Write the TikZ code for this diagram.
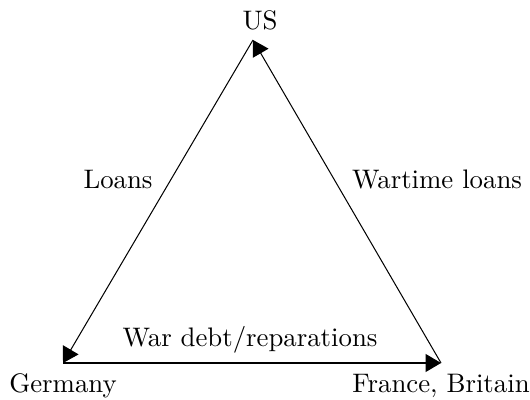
\documentclass[tikz,border=0pt]{standalone}
\usetikzlibrary{arrows.meta}
\begin{document}
\begin{tikzpicture}[x=0.392pt,y=-0.392pt,
  flow/.style={-{Triangle[length=6pt,width=7pt]}, line width=0.4pt},
  lbl/.style={inner sep=0pt, font=\fontsize{10.5}{12}\selectfont}]
\useasboundingbox (0,0) rectangle (530,400);
\coordinate (usv) at (253,40);
\coordinate (gerv) at (63,363);
\coordinate (frv) at (441,363);
\node[lbl] (us) at (260,20) {US};
\node[lbl] (ger) at (63,386) {Germany};
\node[lbl] (fr) at (441,386) {France, Britain};
\node[lbl] (loans) at (118,180) {Loans};
\node[lbl] (wloans) at (437,180) {Wartime loans};
\node[lbl] (wdebt) at (250,340) {War debt/reparations};
\draw[flow] (usv) -- (gerv);
\draw[flow] (gerv) -- (frv);
\draw[flow] (frv) -- (usv);
\end{tikzpicture}
\end{document}
